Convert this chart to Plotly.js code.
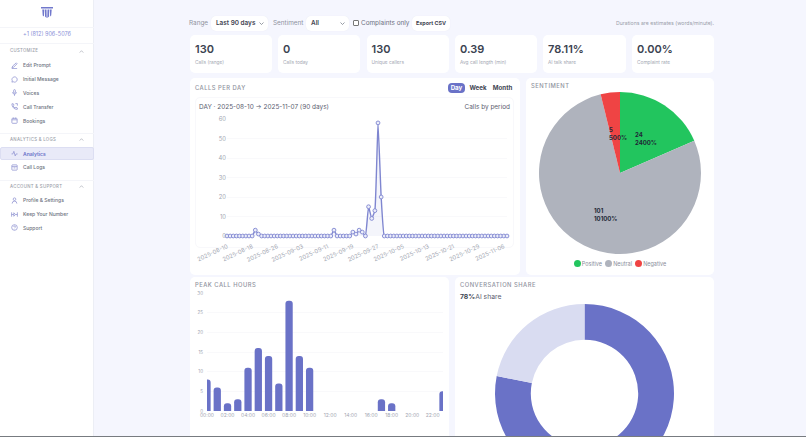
<!DOCTYPE html>
<html><head><meta charset="utf-8">
<script src="https://cdn.plot.ly/plotly-3.0.1.min.js"></script>
<style>
*{box-sizing:border-box}
html,body{margin:0;padding:0;width:806px;height:437px;overflow:hidden;background:#f5f6fe;font-family:Inter,"Open Sans",sans-serif;color:#374151}
.a{position:absolute}
.t{position:absolute;white-space:nowrap;line-height:1}
#side{left:0;top:0;width:94px;height:437px;background:#fff;border-right:1px solid #eceef5}
.div{position:absolute;left:0;width:94px;height:1px;background:#f4f5f9}
.sec{position:absolute;left:10px;font-size:4.3px;letter-spacing:.3px;color:#9a9ea9;font-weight:500;line-height:1;white-space:nowrap}
.item{position:absolute;left:23px;font-size:5px;color:#6d7280;font-weight:500;line-height:1;white-space:nowrap}
.card{position:absolute;background:#fff;border-radius:5px}
.kv{position:absolute;left:5px;top:9px;font-size:11px;font-weight:600;color:#3b4250;line-height:1}
.kl{position:absolute;left:5px;top:25px;font-size:4.8px;color:#a4a8b3;line-height:1;white-space:nowrap}
.ct{position:absolute;font-size:5.8px;letter-spacing:.5px;color:#8f939e;font-weight:500;line-height:1;white-space:nowrap}
.sel{position:absolute;background:#fff;border-radius:5px;height:15px;font-size:6.4px;font-weight:600;color:#3f4552;line-height:15px;padding-left:5px;box-shadow:0 0 1px #e5e7f0}
.sel svg{position:absolute;right:4px;top:6px}
.lab{position:absolute;font-size:6.4px;color:#8f939e;line-height:1;white-space:nowrap}
.btn{position:absolute;font-size:6.2px;font-weight:700;color:#3f4552;line-height:10px;height:10px;text-align:center;border-radius:4px}
.dot{display:inline-block;width:7px;height:7px;border-radius:50%;vertical-align:-1px;margin-right:1px}
svg.ic{position:absolute;left:10.5px;width:7px;height:7px;fill:none;stroke:#9297d3;stroke-width:.9}
svg.chev{position:absolute;left:78.5px;width:5px;height:3px;fill:none;stroke:#9a9ea9;stroke-width:.6}
</style></head><body>
<div id="side" class="a">
 <svg class="a" style="left:40px;top:6px" width="14" height="13" viewBox="0 0 14 13"><path d="M1 1h12v1.500H1z M2.300 3.500h2.100l-.5 7L2.700 9.500z M5 3.500h1.500l.2 8.500L5 10.500z M7.500 3.500H9l.1 7-1.800 1.500z M9.600 3.500h2.100l-.5 6-1 1z" fill="#7178cc"/></svg>
 <div class="div" style="top:27px"></div>
 <div class="t" style="left:0;width:94px;text-align:center;top:32px;font-size:5.500px;color:#8a90d8">+1 (812) 906-5076</div>
 <div class="div" style="top:43px"></div>
 <div class="sec" style="top:49px">CUSTOMIZE</div><svg class="chev" style="top:49.500px" viewBox="0 0 5 3"><path d="M.7 2.600 2.500.7l1.800 1.900"/></svg>
 <svg class="ic" style="top:61.500px" viewBox="0 0 8 8"><path d="M1 7l1-2.500L6 1l1 1-4 4zM1 7.500h6"/></svg><div class="item" style="top:62.500px">Edit Prompt</div>
 <svg class="ic" style="top:75.500px" viewBox="0 0 8 8"><path d="M4 1a3 3 0 1 1-1.400 5.600L1 7l.5-1.500A3 3 0 0 1 4 1z"/></svg><div class="item" style="top:76.500px">Initial Message</div>
 <svg class="ic" style="top:89px" viewBox="0 0 8 8"><rect x="3" y=".7" width="2" height="4" rx="1"/><path d="M1.800 3.600a2.200 2.200 0 0 0 4.400 0M4 5.800v2"/></svg><div class="item" style="top:90.500px">Voices</div>
 <svg class="ic" style="top:103px" viewBox="0 0 8 8"><path d="M1 1l1.500-.2 1 1.800-1 .9c.5 1 1.200 1.700 2.200 2.200l.9-1 1.700 1-.2 1.600C3.500 7.300 1 4.500 1 1zM5 .7h2.300V3"/></svg><div class="item" style="top:104.500px">Call Transfer</div>
 <svg class="ic" style="top:117px" viewBox="0 0 8 8"><rect x="1" y="1.500" width="6" height="5.700" rx=".8"/><path d="M1 3.200h6M2.700.6v1.500M5.300.6v1.500"/></svg><div class="item" style="top:118.500px">Bookings</div>
 <div class="div" style="top:133px"></div>
 <div class="sec" style="top:137.500px">ANALYTICS &amp; LOGS</div><svg class="chev" style="top:138px" viewBox="0 0 5 3"><path d="M.7 2.600 2.500.7l1.800 1.900"/></svg>
 <div class="a" style="left:0;top:147px;width:94px;height:13px;background:#e9eaf8;border:.6px solid #dcdef2;border-radius:2px"></div>
 <svg class="ic" style="top:150px" viewBox="0 0 8 8"><path d="M.6 4.500h1.500L3.300 1.500 4.800 6.800 5.800 4.500h1.700"/></svg><div class="item" style="top:151.500px;color:#6b72c9;font-weight:600">Analytics</div>
 <svg class="ic" style="top:163.500px" viewBox="0 0 8 8"><rect x="1" y="1" width="6" height="6" rx=".6"/><path d="M1 3h6M3 4.500h2"/></svg><div class="item" style="top:165px">Call Logs</div>
 <div class="div" style="top:180px"></div>
 <div class="sec" style="top:184.500px">ACCOUNT &amp; SUPPORT</div><svg class="chev" style="top:185px" viewBox="0 0 5 3"><path d="M.7 2.600 2.500.7l1.800 1.900"/></svg>
 <svg class="ic" style="top:196.500px" viewBox="0 0 8 8"><circle cx="4" cy="2.500" r="1.500"/><path d="M1.300 7.500a2.700 2.700 0 0 1 5.400 0"/></svg><div class="item" style="top:198px">Profile &amp; Settings</div>
 <svg class="ic" style="top:210.500px" viewBox="0 0 8 8"><path d="M.7 1.500v5M.7 4h2.500M3.200 2v4l2-2zM5.200 4h2M7.300 1.500v5"/></svg><div class="item" style="top:212px">Keep Your Number</div>
 <svg class="ic" style="top:224px" viewBox="0 0 8 8"><circle cx="4" cy="4" r="3.200"/><path d="M3 3.200a1 1 0 1 1 1.400 1L4 4.800M4 5.800v.3"/></svg><div class="item" style="top:225.500px">Support</div>
</div>

<div class="lab" style="left:189px;top:20px">Range</div>
<div class="sel" style="left:211px;top:15.500px;width:57px">Last 90 days<svg width="5" height="3" viewBox="0 0 5 3"><path d="M.5.500l2 2 2-2" fill="none" stroke="#6b7280" stroke-width=".7"/></svg></div>
<div class="lab" style="left:273px;top:20px">Sentiment</div>
<div class="sel" style="left:306px;top:15.500px;width:43px">All<svg width="5" height="3" viewBox="0 0 5 3"><path d="M.5.500l2 2 2-2" fill="none" stroke="#6b7280" stroke-width=".7"/></svg></div>
<div class="a" style="left:353px;top:20px;width:6px;height:6px;border:.7px solid #777;border-radius:1px;background:#fff"></div>
<div class="lab" style="left:361px;top:20px;color:#6b7080">Complaints only</div>
<div class="sel" style="left:412px;top:15.500px;width:38px;padding-left:0;text-align:center;font-size:5.400px;font-weight:700">Export CSV</div>
<div class="t" style="right:92px;top:20.500px;font-size:5.200px;color:#9a9eaa">Durations are estimates (words/minute).</div>

<div class="card" style="left:190px;top:35px;width:82px;height:38px"><div class="kv">130</div><div class="kl">Calls (range)</div></div>
<div class="card" style="left:278px;top:35px;width:82px;height:38px"><div class="kv">0</div><div class="kl">Calls today</div></div>
<div class="card" style="left:366.500px;top:35px;width:82px;height:38px"><div class="kv">130</div><div class="kl">Unique callers</div></div>
<div class="card" style="left:455px;top:35px;width:82px;height:38px"><div class="kv">0.39</div><div class="kl">Avg call length (min)</div></div>
<div class="card" style="left:543px;top:35px;width:82.500px;height:38px"><div class="kv">78.11%</div><div class="kl">AI talk share</div></div>
<div class="card" style="left:632px;top:35px;width:82px;height:38px"><div class="kv">0.00%</div><div class="kl">Complaint rate</div></div>

<div class="card" style="left:190px;top:78px;width:330px;height:197px"></div>
<div class="ct" style="left:195px;top:84.500px">CALLS PER DAY</div>
<div class="btn" style="left:448px;top:83px;width:17px;background:#6a72c7;color:#fff">Day</div>
<div class="btn" style="left:469px;top:83px;width:18px">Week</div>
<div class="btn" style="left:492px;top:83px;width:21px">Month</div>
<div class="a" style="left:195px;top:97px;width:319px;height:151px;border:.6px solid #f8f8fb;border-radius:5px"></div>
<div class="t" style="left:199px;top:103.500px;font-size:6.450px;color:#5b6070">DAY · 2025-08-10 → 2025-11-07 (90 days)</div>
<div class="t" style="right:296px;top:103.500px;font-size:6.450px;color:#5b6070">Calls by period</div>
<div id="line" class="a" style="left:195px;top:112px;width:319px;height:150px"></div>

<div class="card" style="left:526px;top:78px;width:188px;height:197px"></div>
<div class="ct" style="left:531px;top:83px">SENTIMENT</div>
<div id="pie" class="a" style="left:530px;top:84px;width:180px;height:178px"></div>
<div class="t" style="left:526px;width:188px;text-align:center;top:260px;font-size:5.500px;color:#8a8e9a" id="leg"></div>

<div class="card" style="left:190px;top:277px;width:259px;height:170px"></div>
<div class="ct" style="left:195px;top:281.500px">PEAK CALL HOURS</div>
<div id="bar" class="a" style="left:195px;top:288px;width:254px;height:138px"></div>

<div class="card" style="left:455px;top:277px;width:259px;height:170px"></div>
<div class="ct" style="left:460px;top:281.500px">CONVERSATION SHARE</div>
<div class="t" style="left:460px;top:293.500px;font-size:6.800px;color:#5b6070"><b style="color:#3b4250">78%</b>AI share</div>
<div id="donut" class="a" style="left:494px;top:303px;width:181px;height:181px"></div>
<div class="a" style="left:0;top:436px;width:806px;height:1px;background:#777b80"></div>

<script>
const dates=["2025-08-10","2025-08-11","2025-08-12","2025-08-13","2025-08-14","2025-08-15","2025-08-16","2025-08-17","2025-08-18","2025-08-19","2025-08-20","2025-08-21","2025-08-22","2025-08-23","2025-08-24","2025-08-25","2025-08-26","2025-08-27","2025-08-28","2025-08-29","2025-08-30","2025-08-31","2025-09-01","2025-09-02","2025-09-03","2025-09-04","2025-09-05","2025-09-06","2025-09-07","2025-09-08","2025-09-09","2025-09-10","2025-09-11","2025-09-12","2025-09-13","2025-09-14","2025-09-15","2025-09-16","2025-09-17","2025-09-18","2025-09-19","2025-09-20","2025-09-21","2025-09-22","2025-09-23","2025-09-24","2025-09-25","2025-09-26","2025-09-27","2025-09-28","2025-09-29","2025-09-30","2025-10-01","2025-10-02","2025-10-03","2025-10-04","2025-10-05","2025-10-06","2025-10-07","2025-10-08","2025-10-09","2025-10-10","2025-10-11","2025-10-12","2025-10-13","2025-10-14","2025-10-15","2025-10-16","2025-10-17","2025-10-18","2025-10-19","2025-10-20","2025-10-21","2025-10-22","2025-10-23","2025-10-24","2025-10-25","2025-10-26","2025-10-27","2025-10-28","2025-10-29","2025-10-30","2025-10-31","2025-11-01","2025-11-02","2025-11-03","2025-11-04","2025-11-05","2025-11-06","2025-11-07"];
const callsPerDay=[0,0,0,0,0,0,0,0,0,3,1,0,0,0,0,0,0,0,0,0,0,0,0,0,0,0,0,0,0,0,0,0,0,0,3,0,0,0,0,0,2,1,3,2,0,15,9,13,58,20,0,0,0,0,0,0,0,0,0,0,0,0,0,0,0,0,0,0,0,0,0,0,0,0,0,0,0,0,0,0,0,0,0,0,0,0,0,0,0,0];
const dateTicks=["2025-08-10","2025-08-18","2025-08-26","2025-09-03","2025-09-11","2025-09-19","2025-09-27","2025-10-05","2025-10-13","2025-10-21","2025-10-29","2025-11-06"];
const sentimentLabels=["Positive","Neutral","Negative"];
const sentimentValues=[24,101,5];
const sentimentColors=["#22c55e","#afb3bd","#ef4444"];
const sentimentLabelX=[0.58,0.33,0.42];
const sentimentLabelY=[0.71,0.245,0.745];
const hours=["00:00","01:00","02:00","03:00","04:00","05:00","06:00","07:00","08:00","09:00","10:00","11:00","12:00","13:00","14:00","15:00","16:00","17:00","18:00","19:00","20:00","21:00","22:00","23:00"];
const hourCalls=[8,6,2,3,11,16,14,7,28,14,11,0,0,0,0,0,0,3,2,0,0,0,0,5];
const hourTicks=["00:00","02:00","04:00","06:00","08:00","10:00","12:00","14:00","16:00","18:00","20:00","22:00"];
const shareLabels=["AI","Caller"];
const shareValues=[78.11,21.89];

const accent="#6a72c7", grid="#f7f7fa", tick="#a2a6b1", font="Inter, sans-serif", clear="rgba(0,0,0,0)";
const cfg={displayModeBar:false,staticPlot:true};
const base={paper_bgcolor:clear,plot_bgcolor:clear,showlegend:false,font:{family:font}};

Plotly.newPlot("line",[{type:"scatter",mode:"lines+markers",x:dates,y:callsPerDay,
  line:{color:"#7f86d0",width:1.400,shape:"spline",smoothing:.35},
  marker:{size:3.800,color:"#eceefa",line:{color:"#7f86d0",width:.9}},
  fill:"tozeroy",fillcolor:"rgba(106,114,199,.07)",cliponaxis:false}],
 {...base,margin:{l:32,r:7,t:6.700,b:26},
  xaxis:{type:"category",range:[0,89],tickmode:"array",tickvals:dateTicks,ticktext:dateTicks,tickangle:-25,ticks:"outside",ticklen:4,tickcolor:clear,showgrid:false,zeroline:false,showline:false,tickfont:{size:5.800,color:tick,family:font},automargin:false},
  yaxis:{range:[0,60],dtick:10,gridcolor:grid,gridwidth:.7,zeroline:false,showline:false,ticks:"",tickfont:{size:5.800,color:tick,family:font},automargin:false}},cfg);

Plotly.newPlot("pie",[{type:"pie",labels:sentimentLabels,values:sentimentValues,sort:false,direction:"clockwise",rotation:0,
  marker:{colors:sentimentColors,line:{width:0}},textinfo:"none",
  domain:{x:[0,1],y:[0,1]},hole:0}],
 {...base,margin:{l:9,r:9,t:8,b:8},
  annotations:sentimentValues.map((v,i)=>({xref:"paper",yref:"paper",x:sentimentLabelX[i],y:sentimentLabelY[i],xanchor:"left",yanchor:"middle",align:"left",showarrow:false,text:"<b>"+v+"<br>"+(v*100)+"%</b>",font:{size:6,color:"#1f2937",family:font}}))},cfg);
document.getElementById("leg").innerHTML=sentimentLabels.map((l,i)=>'<span class="dot" style="background:'+sentimentColors[i]+'"></span>'+l).join(" &nbsp;");

Plotly.newPlot("bar",[{type:"bar",x:hours,y:hourCalls,marker:{color:accent},width:.71}],
 {...base,barcornerradius:3,margin:{l:12,r:5.700,t:5,b:15.300},
  xaxis:{type:"category",range:[0,23],tickmode:"array",tickvals:hourTicks,ticktext:hourTicks,tickangle:0,showgrid:false,zeroline:false,showline:false,ticks:"",tickfont:{size:5,color:tick,family:font}},
  yaxis:{range:[0,30],dtick:5,gridcolor:grid,gridwidth:.7,zeroline:false,showline:false,ticks:"outside",ticklen:2,tickcolor:clear,tickfont:{size:4.600,color:tick,family:font}}},cfg);

Plotly.newPlot("donut",[{type:"pie",labels:shareLabels,values:shareValues,sort:false,direction:"clockwise",rotation:0,hole:.6,
  marker:{colors:[accent,"#d9dcf1"],line:{width:0}},textinfo:"none"}],
 {...base,margin:{l:0.500,r:0.500,t:0.500,b:0.500}},cfg);
</script>
</body></html>
